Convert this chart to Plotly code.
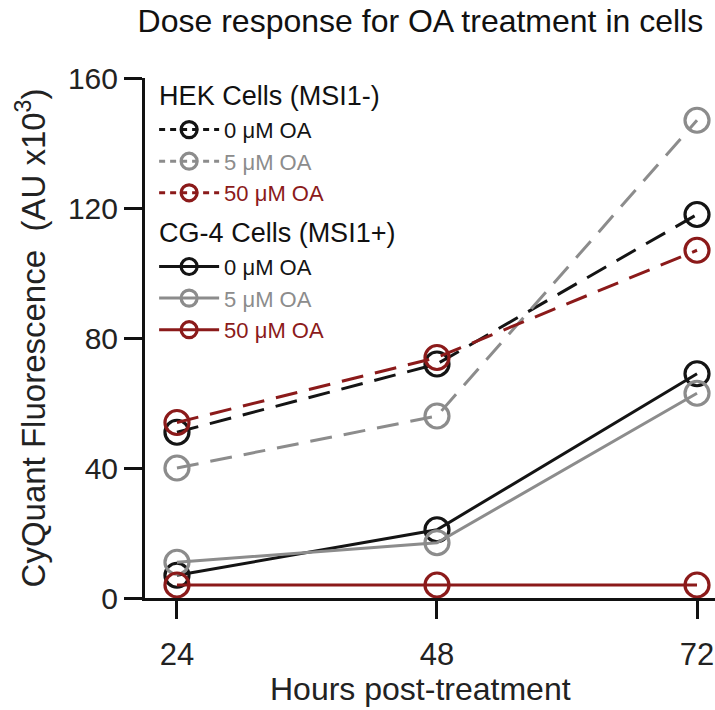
import plotly.graph_objects as go

hours = [24, 48, 72]
hek_0 = [51, 72, 118]
hek_5 = [40, 56, 147]
hek_50 = [54, 74, 107]
cg4_0 = [7, 21, 69]
cg4_5 = [11, 17, 63]
cg4_50 = [4, 4, 4]

series_names = ["0 μM OA", "5 μM OA", "50 μM OA"]
colors = ["#141414", "#8c8c8c", "#8b1a1a"]
hek_title = "HEK Cells (MSI1-)"
cg4_title = "CG-4 Cells (MSI1+)"
title_text = "Dose response for OA treatment in cells"
x_title = "Hours post-treatment"
y_title = "CyQuant Fluorescence\u00a0\u00a0(AU x10<sup>3</sup>)"
y_ticks = [0, 40, 80, 120, 160]

FONT = "Liberation Sans, Arial, sans-serif"
MARKER_SIZE = 24
LEG_FONT = 22
GROUP_FONT = 27

fig = go.Figure()

for vals, name, col in zip([hek_0, hek_5, hek_50], series_names, colors):
    fig.add_trace(go.Scatter(
        x=hours, y=vals, mode="lines+markers", showlegend=False,
        legendgroup="hek",
        line=dict(color=col, width=3, dash="22px,12px"),
        marker=dict(symbol="circle-open", size=MARKER_SIZE, color=col, line=dict(width=3.2, color=col)),
        cliponaxis=False,
    ))
    # legend entry with a short dash pattern like the reference key
    fig.add_trace(go.Scatter(
        x=[None], y=[None], mode="lines+markers",
        name=f"<span style='color:{col}'>{name}</span>",
        legendgroup="hek",
        legendgrouptitle=dict(text=hek_title, font=dict(size=GROUP_FONT, color="#111")),
        line=dict(color=col, width=3, dash="6px,5px"),
        marker=dict(symbol="circle-open", size=MARKER_SIZE, color=col, line=dict(width=3.2, color=col)),
    ))

for vals, name, col in zip([cg4_0, cg4_5, cg4_50], series_names, colors):
    fig.add_trace(go.Scatter(
        x=hours, y=vals, mode="lines+markers",
        name=f"<span style='color:{col}'>{name}</span>",
        legendgroup="cg4",
        legendgrouptitle=dict(text=cg4_title, font=dict(size=GROUP_FONT, color="#111")),
        line=dict(color=col, width=3),
        marker=dict(symbol="circle-open", size=MARKER_SIZE, color=col, line=dict(width=3.2, color=col)),
        cliponaxis=False,
    ))

fig.update_layout(
    width=715, height=710,
    paper_bgcolor="white", plot_bgcolor="white",
    margin=dict(l=145, r=0, t=78, b=112, autoexpand=False),
    font=dict(family=FONT, color="#222", size=24),
    title=dict(text=title_text, x=0.588, xref="container", xanchor="center",
               y=0.971, yanchor="middle", font=dict(size=32, color="#111")),
    legend=dict(x=0.016, y=1.014, xanchor="left", yanchor="top",
                font=dict(size=LEG_FONT), bgcolor="rgba(0,0,0,0)",
                tracegroupgap=4, itemwidth=60),
    showlegend=True,
    annotations=[dict(
        text=x_title, xref="paper", yref="paper", x=0.4825, y=0,
        xanchor="center", yanchor="middle", yshift=-91, showarrow=False,
        font=dict(size=32, color="#222"),
    )],
)

fig.update_xaxes(
    range=[21.05, 73.66], tickvals=hours, ticktext=[str(h) for h in hours],
    showline=True, linecolor="#111", linewidth=3,
    ticks="outside", ticklen=18, tickwidth=3, tickcolor="#111",
    showgrid=False, zeroline=False, automargin=False,
    tickfont=dict(size=31, color="#222"), ticklabelstandoff=9,
)
fig.update_yaxes(
    range=[0, 160], tickvals=y_ticks,
    showline=True, linecolor="#111", linewidth=3,
    ticks="outside", ticklen=18, tickwidth=3, tickcolor="#111",
    showgrid=False, zeroline=False, automargin=False,
    tickfont=dict(size=30, color="#222"),
    title=dict(text=y_title, font=dict(size=33, color="#222"), standoff=13),
)

fig.write_html(
    "out.html",
    config={"displayModeBar": False},
    post_script="document.body.style.margin='0px';document.documentElement.style.overflow='hidden';",
)
